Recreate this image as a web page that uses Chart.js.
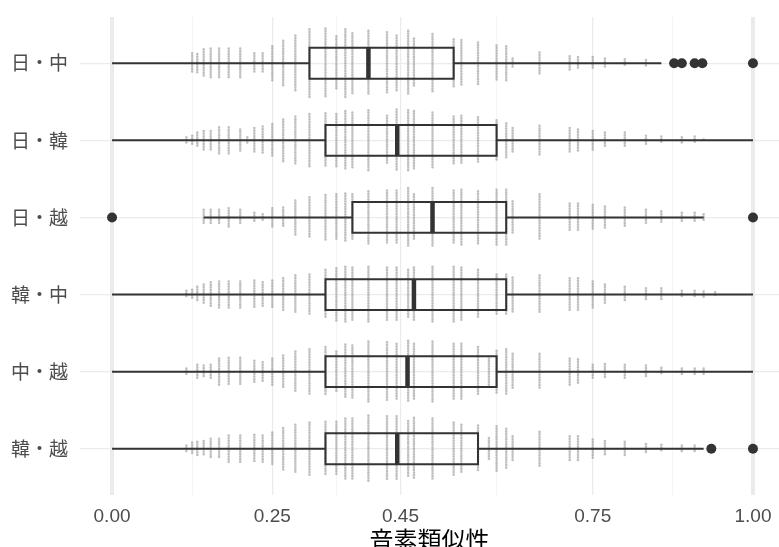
<!DOCTYPE html>
<html>
<head>
<meta charset="utf-8">
<script src="https://cdn.jsdelivr.net/npm/chart.js@4.4.0/dist/chart.umd.min.js"></script>
<style>
  html, body { margin: 0; padding: 0; background: #fff; }
</style>
</head>
<body>
<canvas id="boxChart" width="779" height="547"></canvas>
<script>
// language pairs, top to bottom
const pairs = ["日・中", "日・韓", "日・越", "韓・中", "中・越", "韓・越"];

// box statistics
const whiskerLow  = [0,     0,     0.143, 0,     0,     0];
const q1          = [0.308, 0.333, 0.375, 0.333, 0.333, 0.333];
const median      = [0.400, 0.445, 0.500, 0.471, 0.461, 0.445];
const q3          = [0.533, 0.600, 0.615, 0.615, 0.600, 0.571];
const whiskerHigh = [0.857, 1,     0.923, 1,     1,     0.923];

// outliers per pair
const outJaZh = [0.877, 0.889, 0.909, 0.921, 1];
const outJaKo = [];
const outJaVi = [0, 1];
const outKoZh = [];
const outZhVi = [];
const outKoVi = [0.935, 1];

// similarity values where the jittered points stack up
const simValues = [0.116, 0.125, 0.133, 0.143, 0.154, 0.167, 0.182, 0.200, 0.211, 0.222,
  0.235, 0.250, 0.267, 0.286, 0.308, 0.333, 0.350, 0.364, 0.375, 0.400,
  0.429, 0.444, 0.462, 0.471, 0.500, 0.533, 0.545, 0.571, 0.588, 0.600,
  0.615, 0.625, 0.667, 0.714, 0.727, 0.750, 0.769, 0.800, 0.833, 0.857,
  0.889, 0.909, 0.923, 0.941];

// how far each stack of jittered points spreads (in rows), per pair
const spreadJaZh = [0,.13,.12,.18,.19,.19,.19,.19,0,.13, .13,.22,.29,.36,.44,.45,.35,.44,.39,.42,
  .40,.36,.42,.32,.38,.31,.30,.27,0,.23, .22,.06,.14,.09,.08,.08,.06,.05,.04,0, 0,0,0,0];
const spreadJaKo = [.04,.06,.10,.12,.12,.17,.17,.14,.04,.16, .18,.21,.27,.31,.34,.35,.34,.38,.36,.39,
  .32,.40,.39,.38,.36,.31,.32,.30,0,.26, .22,.16,.19,.16,.14,.12,.10,.10,.06,.05, .04,.05,.01,0];
const spreadJaVi = [0,0,0,.10,.10,.10,.12,.10,0,.06, .04,.12,.13,.22,.26,.29,.30,.31,.30,.34,
  .35,.35,.38,.30,.38,.35,.36,.34,0,.36, .36,.21,.30,.18,.18,.16,.14,.13,.10,.08, .06,.06,.04,0];
const spreadKoZh = [.05,.06,.10,.13,.16,.17,.17,.17,0,.18, .16,.18,.21,.25,.26,.32,.34,.36,.35,.36,
  .35,.35,.32,.35,.36,.36,.35,.32,0,.26, .26,.22,.25,.21,.21,.17,.13,.10,.08,.08, .05,.05,.04,.03];
const spreadZhVi = [.04,0,.09,.08,.09,.17,.18,.18,0,.14, .12,.17,.21,.26,.29,.32,.26,.35,.34,.39,
  .38,.36,.40,.36,.39,.36,.36,.32,.17,.27, .29,.23,.23,.17,.16,.09,.10,.09,.08,.05, .04,.04,.04,0];
const spreadKoVi = [.04,.08,.09,.10,.13,.13,.17,.17,0,.18, .17,.21,.27,.31,.34,.35,.35,.39,.39,.43,
  .42,.42,.36,.40,.39,.34,.31,.30,.14,.29, .26,.16,.22,.16,.16,.12,.10,.09,.06,.05, .04,.04,0,0];

// x axis breaks
const majorTicks = [0, 0.25, 0.45, 0.75, 1];
const minorTicks = [0.125, 0.35, 0.6, 0.875];

const outliers = [outJaZh, outJaKo, outJaVi, outKoZh, outZhVi, outKoVi];
const spreads = [spreadJaZh, spreadJaKo, spreadJaVi, spreadKoZh, spreadZhVi, spreadKoVi];
const boxHalf = 0.2;
const ink = "#333333";

// build line/point data from the arrays above (rows are 1..6)
const boxPts = [], medPts = [], whiskPts = [], outPts = [], stripPts = [];
pairs.forEach((p, i) => {
  const r = i + 1;
  boxPts.push({x: q1[i], y: r - boxHalf}, {x: q3[i], y: r - boxHalf}, {x: q3[i], y: r + boxHalf},
              {x: q1[i], y: r + boxHalf}, {x: q1[i], y: r - boxHalf}, {x: q1[i], y: null});
  medPts.push({x: median[i], y: r - boxHalf}, {x: median[i], y: r + boxHalf}, {x: median[i], y: null});
  whiskPts.push({x: whiskerLow[i], y: r}, {x: q1[i], y: r}, {x: q1[i], y: null},
                {x: q3[i], y: r}, {x: whiskerHigh[i], y: r}, {x: whiskerHigh[i], y: null});
  outliers[i].forEach(v => outPts.push({x: v, y: r}));
  spreads[i].forEach((s, k) => {
    if (!s) return;
    const v = simValues[k];
    stripPts.push({x: v, y: r - s}, {x: v, y: r + s}, {x: v, y: null});
  });
});

const gridValues = majorTicks.concat(minorTicks).sort((a, b) => a - b);

new Chart(document.getElementById("boxChart"), {
  type: "scatter",
  data: {
    datasets: [
      { data: outPts, order: 0, pointRadius: 5, pointBackgroundColor: ink, pointBorderWidth: 0 },
      { data: medPts, order: 1, showLine: true, pointRadius: 0, borderColor: ink, borderWidth: 4.5 },
      { data: boxPts, order: 2, showLine: true, pointRadius: 0, borderColor: ink, borderWidth: 2,
        borderJoinStyle: "miter", borderCapStyle: "square" },
      { data: whiskPts, order: 3, showLine: true, pointRadius: 0, borderColor: ink, borderWidth: 2 },
      { data: stripPts, order: 4, showLine: true, pointRadius: 0, borderColor: "rgba(130,130,130,0.5)",
        borderWidth: 2.6, borderDash: [0.1, 2.5], borderCapStyle: "round" }
    ]
  },
  options: {
    responsive: false,
    animation: false,
    spanGaps: false,
    layout: { autoPadding: false, padding: { top: 17, right: 0, bottom: 0, left: 0 } },
    plugins: { legend: { display: false }, tooltip: { enabled: false } },
    scales: {
      x: {
        type: "linear",
        min: -0.05,
        max: 1.0406,
        afterBuildTicks: s => { s.ticks = gridValues.map(v => ({ value: v })); },
        afterFit: s => { s.height = 52; s.paddingLeft = 0; s.paddingRight = 0; },
        border: { display: false },
        grid: {
          drawTicks: false,
          color: c => majorTicks.includes(c.tick.value) ? "#ebebeb" : "#f1f1f1",
          lineWidth: c => (c.tick.value === 0 || c.tick.value === 1) ? 4
            : majorTicks.includes(c.tick.value) ? 1.2 : 0.8
        },
        ticks: {
          autoSkip: false,
          maxRotation: 0,
          padding: 10,
          color: "#4d4d4d",
          font: { family: "'Liberation Sans', Arial, sans-serif", size: 19 },
          callback: v => majorTicks.includes(v) ? v.toFixed(2) : ""
        },
        title: {
          display: true,
          text: "音素類似性",
          color: "#000000",
          font: { family: "'Noto Sans CJK JP', sans-serif", size: 24, lineHeight: 1 },
          padding: { top: 0, bottom: -5 }
        }
      },
      y: {
        type: "linear",
        reverse: true,
        min: 0.4,
        max: 6.6,
        afterBuildTicks: s => { s.ticks = pairs.map((p, i) => ({ value: i + 1 })); },
        afterFit: s => { s.width = 80; s.paddingTop = 0; s.paddingBottom = 0; },
        border: { display: false },
        grid: { drawTicks: false, color: "#ebebeb", lineWidth: 1.2 },
        ticks: {
          padding: 12,
          color: "#4d4d4d",
          font: { family: "'Noto Sans CJK JP', sans-serif", size: 19 },
          callback: v => pairs[v - 1]
        }
      }
    }
  }
});
</script>
</body>
</html>
